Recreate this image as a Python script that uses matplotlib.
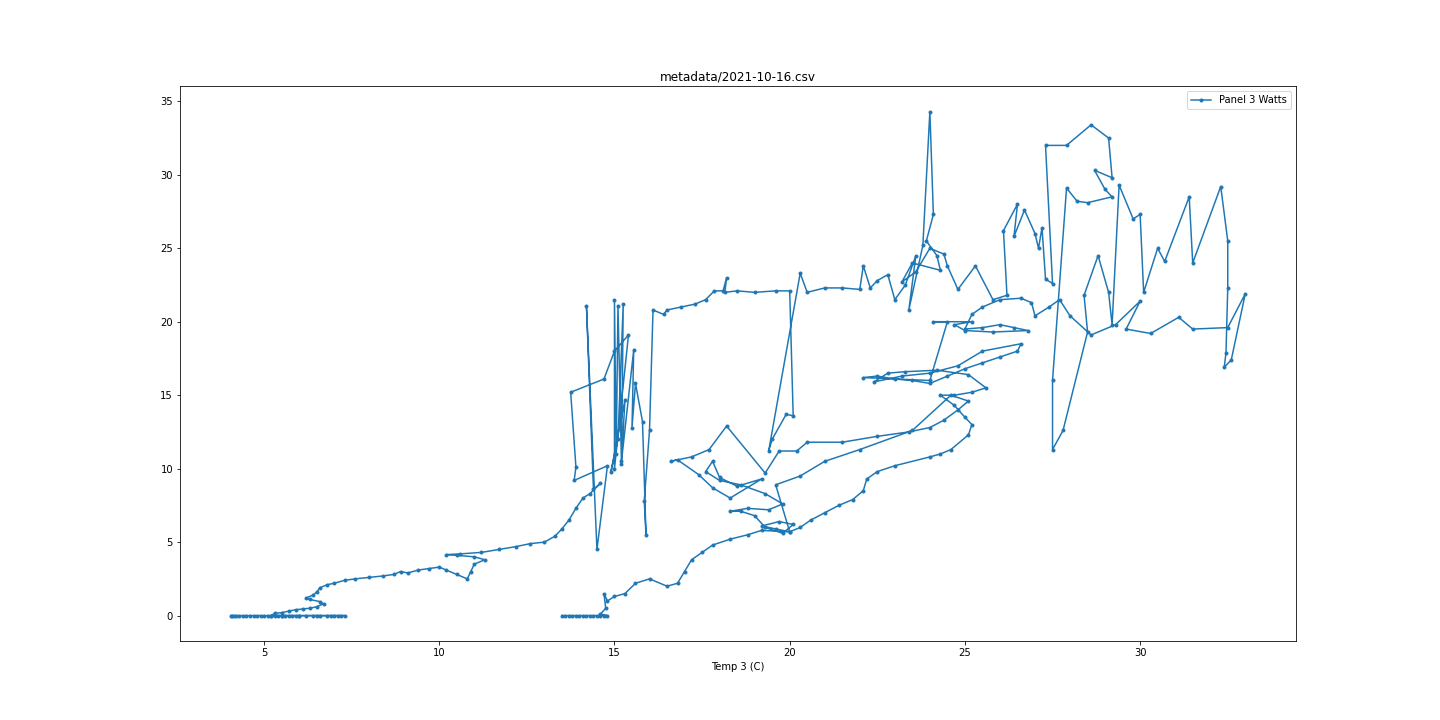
import matplotlib
matplotlib.use('Agg')
import matplotlib.pyplot as plt

# cold morning, panel idle
x0 = [4.05, 4.1, 4.15, 4.2, 4.3, 4.4, 4.5, 4.6, 4.7, 4.8, 4.9, 5.0, 5.1, 5.2, 5.3, 5.4, 5.5, 5.6,
      5.7, 5.8, 5.9, 6.0, 6.2, 6.4, 6.6, 6.8, 7.0, 7.2, 7.3, 7.1, 6.9, 6.5, 6.0, 5.5, 5.2]
y0 = [0.0] * len(x0)

# rising in the morning
x1 = [5.3, 5.5, 5.7, 5.9, 6.1, 6.3, 6.5, 6.7, 6.6, 6.3, 6.2, 6.4, 6.5, 6.6, 6.8, 7.0, 7.3, 7.6,
      8.0, 8.4, 8.7, 8.9, 9.1, 9.4, 9.7, 10.0, 10.2, 10.5, 10.8, 10.9, 11.0, 11.3, 11.0, 10.5,
      10.2, 10.6, 11.2, 11.7, 12.2, 12.6, 13.0, 13.3, 13.5, 13.7, 13.9, 14.1, 14.3, 14.6, 14.4,
      14.2, 14.5, 14.8, 13.85, 13.9, 13.75, 14.7, 15.0, 15.4, 15.0, 15.0, 15.05, 15.1, 15.2,
      15.25, 15.1, 14.9, 15.3, 15.2, 15.55, 15.5, 15.6, 15.8, 15.9, 15.85, 16.0, 16.1, 16.4,
      16.5, 16.9, 17.3, 17.6, 17.85, 18.1, 18.2, 18.15, 18.5, 19.0, 19.6, 20.0, 20.1, 19.9,
      19.5, 19.4, 20.3, 20.5, 21.0, 21.5, 22.0, 22.1, 22.3, 22.5, 22.8, 23.0, 23.3, 23.6, 23.4,
      23.8, 24.0, 24.1, 23.9, 24.2, 24.3, 23.5, 23.2, 23.6, 24.0, 24.4, 24.5, 24.8, 25.3, 25.8,
      26.2, 26.1, 26.5, 26.4, 26.7, 27.0, 27.1, 27.2, 27.3, 27.5]
y1 = [0.15, 0.2, 0.3, 0.4, 0.45, 0.5, 0.6, 0.8, 0.95, 1.1, 1.2, 1.4, 1.6, 1.9, 2.1, 2.2, 2.4, 2.5,
      2.6, 2.7, 2.8, 3.0, 2.9, 3.1, 3.2, 3.3, 3.1, 2.8, 2.5, 3.0, 3.5, 3.8, 4.0, 4.1,
      4.15, 4.2, 4.3, 4.5, 4.7, 4.9, 5.0, 5.4, 5.9, 6.5, 7.3, 8.0, 8.3, 9.0, 8.6,
      21.1, 4.5, 10.2, 9.2, 10.1, 15.2, 16.1, 18.0, 19.1, 10.0, 21.5, 11.0, 21.1, 10.3,
      21.2, 12.0, 9.8, 14.7, 10.5, 18.1, 12.8, 15.8, 13.2, 5.5, 7.8, 12.6, 20.8, 20.5,
      20.8, 21.0, 21.2, 21.5, 22.1, 22.1, 23.0, 22.0, 22.1, 22.0, 22.1, 22.1, 13.6, 13.7,
      12.0, 11.2, 23.3, 22.0, 22.3, 22.3, 22.2, 23.8, 22.3, 22.8, 23.2, 21.5, 22.5, 24.5, 20.8,
      25.2, 34.3, 27.3, 25.5, 24.5, 23.5, 24.0, 22.7, 23.4, 25.0, 24.6, 23.8, 22.2, 23.8, 21.5,
      21.8, 26.2, 28.0, 25.8, 27.6, 26.0, 25.0, 26.4, 22.9, 22.6]

# hottest part of the day
x2 = [27.3, 27.9, 28.6, 29.1, 29.2, 28.7, 29.0, 29.2, 28.5, 28.2, 27.9, 27.5, 27.5, 27.8, 28.5,
      28.4, 28.8, 29.1, 29.2, 29.4, 29.8, 30.0, 30.1, 30.5, 30.7, 31.4, 31.5, 32.3, 32.5, 32.5,
      32.45, 32.4, 32.6, 33.0, 32.5, 31.5, 31.1, 30.3, 29.6, 30.0, 29.3, 28.6, 28.0, 27.7, 27.4,
      27.0, 26.9, 26.6, 26.0, 25.5]
y2 = [32.0, 32.0, 33.4, 32.5, 29.8, 30.3, 29.0, 28.5, 28.1, 28.2, 29.1, 16.0, 11.3, 12.6, 19.3,
      21.8, 24.5, 22.0, 19.8, 29.3, 27.0, 27.3, 22.0, 25.0, 24.1, 28.5, 24.0, 29.2, 25.5, 22.3,
      17.9, 16.9, 17.4, 21.9, 19.6, 19.5, 20.3, 19.2, 19.5, 21.4, 19.8, 19.1, 20.4, 21.5, 21.0,
      20.4, 21.3, 21.6, 21.5, 21.0]

# afternoon, cooling down
x3 = [25.2, 25.0, 25.5, 26.0, 26.4, 26.8, 25.8, 25.0, 24.7, 25.2, 24.1, 24.5, 24.0, 22.1, 22.5,
      23.0, 23.5, 24.0, 24.5, 25.0, 25.5, 26.0, 26.5, 26.6, 25.5, 24.8, 24.0, 23.2, 22.4, 22.8,
      23.3, 24.2, 25.1, 25.6, 25.2, 24.7, 24.3, 24.7, 25.0, 25.2, 25.1, 24.6, 24.3, 24.0, 23.0,
      22.5, 22.2, 22.1, 21.8, 21.4, 21.0, 20.6, 20.3, 20.0, 19.6, 19.2, 19.7, 20.1, 19.8, 19.3,
      19.0, 18.6, 18.3, 18.8, 19.4, 19.8, 19.3, 18.6, 18.0, 17.6, 17.8, 18.0, 18.5, 19.2, 18.3,
      17.8, 17.4, 16.8, 16.6, 17.2, 17.7, 18.2, 19.3, 19.7, 20.2, 20.5, 21.5, 22.5, 23.4, 24.0,
      24.4, 24.8, 25.1, 24.6, 23.5, 22.0, 21.0, 20.3, 19.6, 20.0, 19.2, 18.8, 18.3, 17.8, 17.5,
      17.2, 17.0, 16.8, 16.5, 16.0, 15.6, 15.3, 15.0, 14.8, 14.7, 14.75, 14.6]
y3 = [20.5, 19.5, 19.6, 19.8, 19.6, 19.4, 19.3, 19.4, 19.8, 20.0, 20.0, 20.0, 16.0, 16.2, 16.3,
      16.1, 16.0, 15.8, 16.3, 16.8, 17.2, 17.6, 18.0, 18.5, 18.0, 17.0, 16.5, 16.3, 15.9, 16.5,
      16.6, 16.7, 16.4, 15.5, 15.2, 15.0, 15.0, 14.3, 13.5, 13.0, 12.3, 11.3, 11.0, 10.8, 10.2,
      9.8, 9.3, 8.5, 7.9, 7.5, 7.0, 6.5, 6.0, 5.7, 5.9, 6.1, 6.4, 6.2, 5.6, 6.0,
      6.8, 7.1, 7.1, 7.3, 7.2, 7.6, 8.3, 8.9, 9.2, 9.8, 10.5, 9.4, 8.8, 9.3, 8.0,
      8.7, 9.6, 10.6, 10.5, 10.8, 11.3, 12.9, 9.7, 11.2, 11.2, 11.8, 11.8, 12.2, 12.5, 12.8,
      13.3, 14.0, 14.6, 15.0, 12.6, 11.3, 10.5, 9.5, 8.9, 5.7, 5.8, 5.5, 5.2, 4.8, 4.3,
      3.8, 3.0, 2.2, 2.0, 2.5, 2.2, 1.5, 1.3, 1.0, 1.5, 0.5, 0.1]

# evening, idle again
x4 = [14.8, 14.7, 14.6, 14.5, 14.4, 14.3, 14.2, 14.1, 14.0, 13.9, 13.8, 13.7, 13.6, 13.5]
y4 = [0.0] * len(x4)

temp = x0 + x1 + x2 + x3 + x4
watts = y0 + y1 + y2 + y3 + y4

fig = plt.figure(figsize=(20, 10), dpi=72)
plt.plot(temp, watts, '.-', label='Panel 3 Watts')
plt.title('metadata/2021-10-16.csv')
plt.xlabel('Temp 3 (C)')
plt.legend(loc='best')
plt.savefig('out.png')
